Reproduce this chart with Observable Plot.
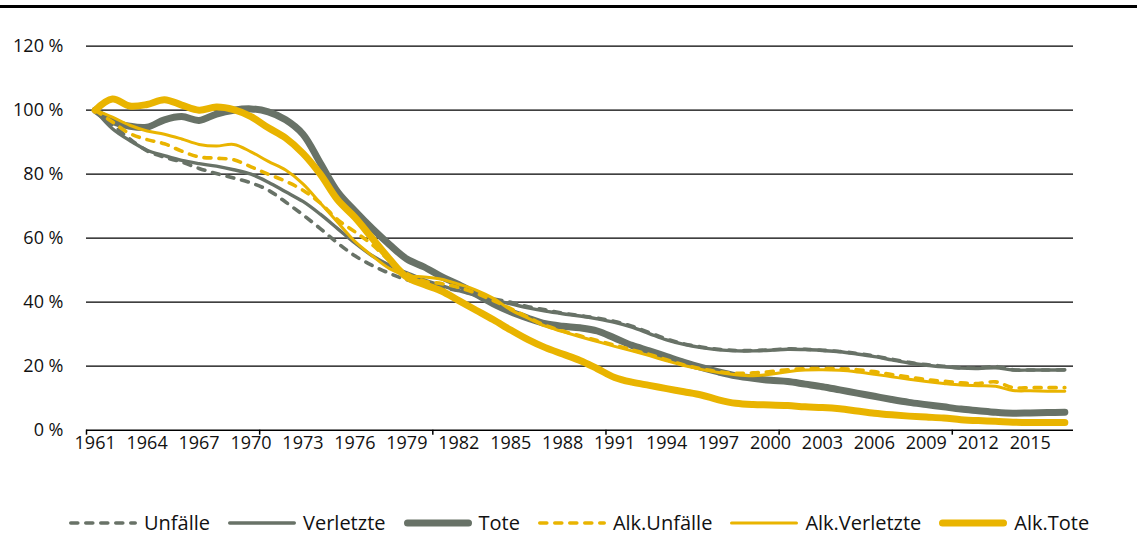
<!DOCTYPE html>
<html>
<head>
<meta charset="utf-8">
<script src="https://cdn.jsdelivr.net/npm/d3@7"></script>
<script src="https://cdn.jsdelivr.net/npm/@observablehq/plot@0.6"></script>
<style>
  html, body { margin: 0; padding: 0; background: #fff; }
  body { font-family: "Open Sans", sans-serif; color: #111; }
  #wrap { width: 1137px; height: 535px; overflow: hidden; }
  #topline { margin-top: 5px; height: 3px; background: #000; width: 1137px; }
  #chart svg { display: block; }
  #legend { height: 24px; padding-top: 11px; padding-left: 68px; display: flex; align-items: center; font-size: 20px; white-space: nowrap; }
  .item { display: flex; align-items: center; margin-right: 17px; }
  .item svg { display: block; }
  .item span { margin-left: 6px; line-height: 24px; }
</style>
</head>
<body>
<div id="wrap">
  <div id="topline"></div>
  <div id="chart"></div>
  <div id="legend"></div>
</div>
<script>
// ---- data ----
const years = [1961,1962,1963,1964,1965,1966,1967,1968,1969,1970,
  1971,1972,1973,1974,1975,1976,1977,1978,1979,1980,
  1981,1982,1983,1984,1985,1986,1987,1988,1989,1990,
  1991,1992,1993,1994,1995,1996,1997,1998,1999,2000,
  2001,2002,2003,2004,2005,2006,2007,2008,2009,2010,
  2011,2012,2013,2014,2015,2016,2017];

const unfaelle = [100,95.5,91,87.3,85.3,83.8,81.8,80.2,78.8,77.3,
  75,71.3,67.3,63,58.5,54.5,51.5,49,47,45.6,
  44.6,43.6,42.4,41,40,38.6,37.6,36.6,35.8,35,
  34,32.5,30.5,28.5,27,26,25.3,24.9,24.9,25.1,
  25.4,25.3,25,24.6,24,23.2,22.2,21.2,20.5,20,
  19.5,19.4,19.9,18.9,18.8,18.8,18.8];

const verletzte = [100,94.2,90.5,87.5,85.8,84.3,83.3,82.5,81.4,80,
  77.5,74.5,71.5,67.5,63,58.5,54.5,51.5,49.2,47,
  45.2,43.6,42.1,40.6,39.5,38.2,37.2,36.4,35.7,34.8,
  33.7,32.2,30.2,28.2,26.8,25.8,25.1,24.8,24.8,25,
  25.3,25.2,24.9,24.5,23.8,23,22,21,20.3,19.8,
  19.4,19.3,19.5,18.8,18.8,18.8,18.9];

const tote = [100,96.5,95,94.7,97,98,96.8,98.8,100,100.4,
  99.5,97,92.5,83.5,74.5,68.5,63,58,53.5,51,
  48,45.5,42.5,39.5,37,35,33.3,32.5,32,31,
  28.8,26.5,24.8,23,21.2,19.6,18.2,17,16.2,15.6,
  15.2,14.4,13.6,12.6,11.6,10.6,9.6,8.7,8,7.3,
  6.6,6.1,5.6,5.3,5.4,5.5,5.6];

const alkUnfaelle = [100,96.3,92.7,90.8,89.5,87.2,85.4,85,84.5,82.3,
  80,77.8,75,71,65.8,62,58,53,49,46.6,
  45.8,44.6,42.8,40.5,38,35.3,32.8,31,29.5,28,
  26.6,25.1,23.7,22,20.4,19.2,18.3,17.8,17.9,18.3,
  18.9,19.2,19.3,19.2,18.9,18.3,17.4,16.6,15.8,15.3,
  14.8,14.6,15.1,13.3,13.3,13.3,13.3];

const alkVerletzte = [100,97.8,95.3,93.5,92.5,91,89.3,88.8,89.3,87,
  84,81.3,77,71,65,59,54.5,50.5,48.3,47.9,
  47.2,45.6,43.8,41.2,37.6,35,32.5,30.8,29.2,27.7,
  26.2,24.8,23.3,21.7,20.2,19,18,17.3,17,17.5,
  18.3,18.8,18.9,18.7,18.2,17.5,16.7,15.9,15.2,14.6,
  14.1,13.9,13.7,12.4,12.3,12.2,12.2];

const alkTote = [100,103.5,101.3,101.8,103.3,101.6,100,101,100.2,98,
  94.5,91.3,86.5,80,72,66.5,60,53.5,47.8,45.5,
  43.5,40.5,37.5,34.5,31.3,28.3,25.8,23.8,21.8,19.2,
  16.5,15,14,13,12,11,9.5,8.4,8,7.9,
  7.7,7.3,7.1,6.7,6,5.3,4.8,4.4,4.1,3.8,
  3.3,3,2.8,2.5,2.4,2.4,2.4];

const yTicks = [0,20,40,60,80,100,120];
const labelYears = [1961,1964,1967,1970,1973,1976,1979,1982,1985,1988,1991,1994,1997,2000,2003,2006,2009,2012,2015];
const tickYears = [1960.5,1970.5,1980.5,1990.5,2000.5,2010.5];

// ---- styles ----
const GREY = "#687267";
const YELLOW = "#e9b400";
const series = [
  {name: "Unfälle",       values: unfaelle,     color: GREY,   width: 3.6, dash: "7,8"},
  {name: "Verletzte",     values: verletzte,    color: GREY,   width: 3.4, dash: null},
  {name: "Tote",          values: tote,         color: GREY,   width: 7,   dash: null},
  {name: "Alk.Unfälle",   values: alkUnfaelle,  color: YELLOW, width: 3.6, dash: "7,8"},
  {name: "Alk.Verletzte", values: alkVerletzte, color: YELLOW, width: 3,   dash: null},
  {name: "Alk.Tote",      values: alkTote,      color: YELLOW, width: 7,   dash: null}
];
const drawOrder = ["Verletzte","Unfälle","Tote","Alk.Verletzte","Alk.Unfälle","Alk.Tote"];

const rows = [];
series.forEach(s => years.forEach((yr, i) => rows.push({year: yr, value: s.values[i], key: s.name})));

const lineMarks = drawOrder.map(name => {
  const s = series.find(d => d.name === name);
  return Plot.line(rows.filter(r => r.key === name), {
    x: "year", y: "value",
    stroke: s.color, strokeWidth: s.width,
    strokeDasharray: s.dash || undefined,
    strokeLinecap: "round", strokeLinejoin: "round",
    curve: "catmull-rom"
  });
});

const chart = Plot.plot({
  width: 1137,
  height: 492,
  marginTop: 37.7,
  marginBottom: 70.3,
  marginLeft: 86,
  marginRight: 64,
  x: {domain: [1960.5, 2017.5], axis: null, label: null},
  y: {domain: [0, 120], axis: null, label: null},
  style: {fontFamily: "'Open Sans', sans-serif", fontSize: "18px", color: "#111", background: "#fff", overflow: "visible"},
  marks: [
    Plot.ruleY(yTicks.filter(d => d > 0), {stroke: "#000", strokeWidth: 1.2}),
    Plot.axisY({ticks: yTicks, tickSize: 0, tickPadding: 23, tickFormat: d => d + " %", fontSize: 18, label: null}),
    Plot.axisX({ticks: tickYears, tickSize: 5, tickFormat: () => "", stroke: "#000", strokeWidth: 1.5, label: null}),
    Plot.axisX({ticks: labelYears, tickSize: 0, tickPadding: 6, tickFormat: d => String(d), fontSize: 18, label: null}),
    Plot.ruleY([0], {stroke: "#000", strokeWidth: 1.6}),
    ...lineMarks
  ]
});
document.getElementById("chart").appendChild(chart);

// ---- legend ----
const legend = document.getElementById("legend");
series.forEach(s => {
  const item = document.createElement("div");
  item.className = "item";
  const w = 70, h = 12;
  const dash = s.dash ? ` stroke-dasharray="${s.dash}"` : "";
  item.innerHTML = `<svg width="${w}" height="${h}"><line x1="${s.width/2 + 1}" x2="${w - s.width/2 - 1}" y1="${h/2}" y2="${h/2}" stroke="${s.color}" stroke-width="${s.width}" stroke-linecap="round"${dash}/></svg><span>${s.name}</span>`;
  legend.appendChild(item);
});
</script>
</body>
</html>
